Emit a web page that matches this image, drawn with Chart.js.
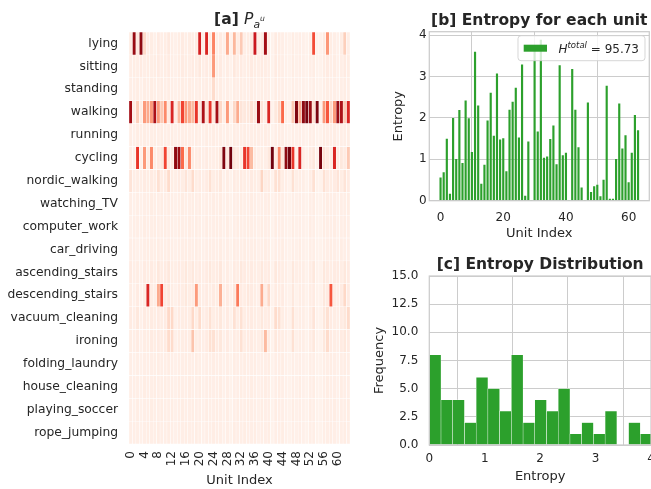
<!DOCTYPE html>
<html><head><meta charset="utf-8">
<script src="https://cdn.jsdelivr.net/npm/chart.js@4.4.1/dist/chart.umd.min.js"></script>
<style>
html,body{margin:0;padding:0;background:#fff;width:651px;height:489px;overflow:hidden;position:relative;}
canvas{position:absolute;}
</style></head><body>
<canvas id="cA" width="352" height="489" style="left:0;top:0"></canvas>
<canvas id="cB" width="281" height="250" style="left:370px;top:0"></canvas>
<canvas id="cC" width="290" height="239" style="left:370px;top:250px"></canvas>
<script>
// ---------- data ----------
const activities = ['lying','sitting','standing','walking','running','cycling','nordic_walking','watching_TV','computer_work','car_driving','ascending_stairs','descending_stairs','vacuum_cleaning','ironing','folding_laundry','house_cleaning','playing_soccer','rope_jumping'];
const units = [0,1,2,3,4,5,6,7,8,9,10,11,12,13,14,15,16,17,18,19,20,21,22,23,24,25,26,27,28,29,30,31,32,33,34,35,36,37,38,39,40,41,42,43,44,45,46,47,48,49,50,51,52,53,54,55,56,57,58,59,60,61,62,63];
const heatTickLabels = ['0','4','8','12','16','20','24','28','32','36','40','44','48','52','56','60'];

// P(a|u) in percent, one array per activity row
const pLying = [5,90,6,92,14,4,5,3, 6,4,5,7,4,3,5,6, 4,5,4,6,72,4,70,5, 42,4,6,3,30,2,26,5, 20,4,5,6,75,4,5,88, 4,2,6,5,4,3,2,5, 3,4,3,2,4,58,2,2, 6,36,5,4,3,5,18,4];
const pSitting = [4,5,4,6,4,5,4,5, 6,4,5,6,4,3,5,6, 5,4,6,5,8,4,6,5, 35,5,6,3,5,2,8,5, 6,4,5,6,5,4,6,5, 4,2,6,5,4,3,2,5, 3,4,3,2,4,5,2,2, 5,6,4,5,3,4,6,5];
const pStanding = [4,4,5,3,5,4,5,4, 4,5,4,5,4,3,4,5, 4,5,4,4,5,4,5,4, 14,4,5,3,4,2,5,4, 5,4,4,5,4,3,5,4, 4,2,5,4,4,3,2,4, 3,3,3,2,3,4,2,2, 4,5,4,4,3,4,5,4];
const pWalking = [88,5,18,5,35,30,35,85, 35,20,40,6,70,5,25,60, 35,30,25,65,8,85,10,65, 8,88,15,4,35,2,15,30, 10,8,8,12,8,90,10,5, 70,2,8,15,50,5,2,20, 95,30,92,97,90,12,96,2, 35,55,15,35,90,85,20,70];
const pRunning = [4,3,5,4,5,4,4,5, 4,5,4,4,5,3,4,4, 5,4,4,5,4,3,5,4, 5,4,4,3,4,2,5,4, 4,5,4,4,5,4,4,5, 4,2,4,5,4,3,2,4, 3,4,3,2,4,4,2,2, 5,4,4,5,3,4,4,5];
const pCycling = [4,3,65,3,35,5,40,4, 6,8,60,6,5,92,90,50, 8,40,6,5,6,4,6,5, 4,5,8,95,6,98,8,6, 5,65,60,25,6,3,5,4, 8,98,6,40,8,92,98,65, 3,70,4,2,6,8,2,97, 10,6,5,70,5,8,6,20];
const pNordic = [10,4,5,4,6,5,6,5, 12,5,6,14,5,4,6,5, 10,5,14,5,6,4,6,12, 5,6,8,3,5,2,6,5, 6,5,4,6,5,4,16,5, 6,2,12,12,5,4,2,12, 4,5,4,2,5,12,2,2, 12,6,5,6,10,5,10,6];
const pTV = [4,3,4,3,4,4,5,4, 4,5,4,5,4,3,4,5, 4,4,5,4,5,3,4,4, 5,4,5,3,4,2,4,4, 5,4,4,5,4,3,4,4, 5,2,4,5,4,3,2,4, 3,4,3,2,4,5,2,2, 4,5,4,4,3,4,4,5];
const pComputer = [3,4,4,3,5,4,4,5, 4,4,5,4,4,3,5,4, 4,5,4,5,4,3,5,4, 4,5,4,3,5,2,4,5, 4,4,5,4,4,3,5,4, 4,2,5,4,4,3,2,5, 3,4,3,2,5,4,2,2, 5,4,4,5,3,4,5,4];
const pCar = [4,4,3,3,4,5,4,4, 5,4,4,5,4,3,4,4, 5,4,4,5,4,3,4,5, 4,4,5,3,4,2,5,4, 4,5,4,4,5,3,4,5, 4,2,4,4,5,3,2,4, 3,5,3,2,4,4,2,2, 4,4,5,4,3,5,4,4];
const pAscending = [6,4,5,3,6,5,6,4, 8,5,6,8,5,4,6,5, 8,5,8,5,6,4,6,8, 5,6,8,3,5,2,6,5, 8,6,5,6,5,4,8,5, 6,2,8,6,5,4,2,8, 4,5,4,2,5,8,2,2, 8,6,5,6,6,5,8,6];
const pDescending = [5,3,6,2,5,70,5,4, 30,60,6,8,5,3,6,5, 8,5,6,35,6,4,6,5, 6,5,28,3,6,2,8,45, 6,5,8,6,5,3,30,4, 15,2,6,5,6,3,2,8, 2,5,4,2,5,6,2,2, 8,6,55,5,4,6,15,6];
const pVacuum = [6,4,8,3,6,5,6,5, 6,5,6,15,15,3,6,5, 6,5,15,5,14,4,6,12, 5,6,8,3,6,2,12,5, 12,5,6,6,5,4,8,5, 6,2,14,12,5,4,2,12, 3,5,4,2,5,10,2,2, 8,12,6,5,4,6,8,14];
const pIroning = [5,4,6,3,5,5,6,5, 6,5,6,14,14,3,5,5, 6,5,22,5,6,4,6,12, 12,6,8,3,6,2,6,5, 12,5,6,6,5,4,8,25, 6,2,8,6,5,4,2,12, 3,5,4,2,5,8,2,2, 8,14,6,5,4,6,8,6];
const pFolding = [4,3,4,3,4,4,4,4, 5,4,4,5,4,3,4,4, 5,4,4,5,4,3,4,4, 5,4,4,3,4,2,5,4, 4,5,4,4,5,3,4,4, 5,2,4,4,5,3,2,4, 3,4,3,2,4,4,2,2, 4,4,5,4,3,4,5,4];
const pHouse = [4,4,4,3,5,4,4,5, 4,4,5,4,4,3,5,4, 4,5,4,4,5,3,4,5, 4,4,5,3,4,2,4,4, 5,4,4,5,4,3,4,5, 4,2,4,5,4,3,2,4, 3,5,3,2,4,5,2,2, 4,5,4,4,3,5,4,4];
const pSoccer = [4,3,5,3,4,4,5,4, 4,5,4,4,5,3,4,5, 4,4,5,4,4,3,5,4, 4,5,4,3,5,2,4,5, 4,4,5,4,4,3,5,4, 4,2,5,4,4,3,2,5, 3,4,3,2,5,4,2,2, 5,4,4,5,3,4,4,5];
const pRope = [4,4,4,3,4,5,4,4, 5,4,4,5,4,3,4,4, 5,4,4,5,4,3,4,4, 5,4,4,3,4,2,5,4, 4,5,4,4,5,3,4,4, 5,2,4,4,5,3,2,4, 3,4,3,2,4,4,2,2, 4,4,5,4,3,4,5,4];
const heatRows = [pLying,pSitting,pStanding,pWalking,pRunning,pCycling,pNordic,pTV,pComputer,pCar,pAscending,pDescending,pVacuum,pIroning,pFolding,pHouse,pSoccer,pRope];

// entropy per unit
const entropy = [0.55,0.68,1.49,0.16,1.99,1.00,2.18,0.90,2.41,1.98, 1.17,3.59,2.29,0.40,0.86,1.93,2.60,1.56,3.06,1.47, 1.50,0.70,2.19,2.38,2.72,1.52,3.28,0.11,1.42,0.00, 3.70,1.66,3.88,1.03,1.06,1.48,1.81,0.87,3.26,1.09, 1.15,0.00,3.17,2.19,1.28,0.31,0.00,2.36,0.20,0.34, 0.38,0.10,0.50,2.77,0.04,0.04,1.00,2.34,1.25,1.57, 0.44,1.15,2.06,1.69];
const totalEntropyText = '95.73';

// histogram of entropies
const histEdges = [0,0.2115,0.423,0.6345,0.846,1.0575,1.269,1.4805,1.692,1.9035,2.115,2.3265,2.538,2.7495,2.961,3.1725,3.384,3.5955,3.807,4.0185];
const histCounts = [8,4,4,2,6,5,3,8,2,4,3,5,1,2,1,3,0,2,1];
const bTicksY = [0,1,2,3,4];

// ---------- helpers ----------
const FONT = '"DejaVu Sans", sans-serif';
const TXT = '#262626';
const GREEN = '#2ca02c';
const GRID = '#cccccc';
Chart.defaults.font.family = FONT;
Chart.defaults.color = TXT;

const redsStops = [[255,245,240],[254,224,210],[252,187,161],[252,146,114],[251,106,74],[239,59,44],[203,24,29],[165,15,21],[103,0,13]];
function reds(t){
  t = Math.max(0, Math.min(1, t));
  const s = t*8, i = Math.min(7, Math.floor(s)), f = s - i;
  const a = redsStops[i], b = redsStops[i+1];
  return 'rgb(' + [0,1,2].map(k => Math.round(a[k] + (b[k]-a[k])*f)).join(',') + ')';
}
function noPadH(a){ a.paddingLeft = 0; a.paddingRight = 0; }
function noPadV(a){ a.paddingTop = 0; a.paddingBottom = 0; }

const mixedTitle = {
  id: 'mixedTitle',
  afterDraw(chart, args, o) {
    if (!o || !o.parts) return;
    const ctx = chart.ctx, ca = chart.chartArea;
    ctx.save();
    ctx.fillStyle = TXT; ctx.textBaseline = 'alphabetic'; ctx.textAlign = 'left';
    let total = 0;
    const ws = o.parts.map(p => { ctx.font = p.font; const w = ctx.measureText(p.text).width; total += w + (p.dx||0); return w; });
    let x = (ca.left + ca.right)/2 - total/2;
    o.parts.forEach((p, i) => { ctx.font = p.font; x += (p.dx||0); ctx.fillText(p.text, x, o.y + (p.dy||0)); x += ws[i]; });
    ctx.restore();
  }
};
const frame = {
  id: 'frame',
  afterDatasetsDraw(chart, args, o) {
    if (!o || !o.show) return;
    const ctx = chart.ctx, ca = chart.chartArea;
    ctx.save(); ctx.strokeStyle = GRID; ctx.lineWidth = 1.25;
    ctx.strokeRect(ca.left, ca.top, ca.right - ca.left, ca.bottom - ca.top);
    ctx.restore();
  }
};
const boxLegend = {
  id: 'boxLegend',
  afterDraw(chart, args, o) {
    if (!o || !o.parts) return;
    const ctx = chart.ctx, ca = chart.chartArea;
    ctx.save();
    let tw = 0;
    const ws = o.parts.map(p => { ctx.font = p.font; const w = ctx.measureText(p.text).width; tw += w; return w; });
    const h = 25, padL = 5.7, patchW = 23.3, gap = 11.5, padR = 6;
    const w = padL + patchW + gap + tw + padR;
    const right = ca.right - 4.3, top = ca.top + 4, left = right - w;
    ctx.beginPath(); ctx.roundRect(left, top, w, h, 3);
    ctx.fillStyle = 'rgba(255,255,255,0.8)'; ctx.fill();
    ctx.strokeStyle = 'rgba(204,204,204,0.8)'; ctx.lineWidth = 1; ctx.stroke();
    ctx.fillStyle = GREEN; ctx.fillRect(left + padL, top + h/2 - 3.5, patchW, 7);
    ctx.fillStyle = TXT; ctx.textBaseline = 'alphabetic';
    let x = left + padL + patchW + gap; const base = top + 17;
    o.parts.forEach((p, i) => { ctx.font = p.font; ctx.fillText(p.text, x, base + (p.dy||0)); x += ws[i]; });
    ctx.restore();
  }
};
Chart.register(mixedTitle, frame, boxLegend);

const common = { responsive:false, animation:false, devicePixelRatio:1, events:[] };

// ---------- [a] heatmap ----------
new Chart(document.getElementById('cA'), {
  type: 'bar',
  data: {
    labels: units.map(String),
    datasets: heatRows.map((row, r) => ({
      data: row.map(() => [r, r + 1]),
      backgroundColor: row.map(v => reds(v/100)),
      borderColor: '#ffffff',
      borderWidth: {left:0.5, right:0.5, top:0.55, bottom:0.55},
      borderSkipped: false,
      barPercentage: 1, categoryPercentage: 1, grouped: false
    }))
  },
  options: Object.assign({}, common, {
    layout: {padding: {top:32, right:2, left:0, bottom:0}},
    plugins: {
      legend:{display:false}, tooltip:{enabled:false},
      mixedTitle: {y: 24, parts: [
        {text:'[a] ', font:'bold 15.5px ' + FONT},
        {text:'P', font:'italic 15.5px ' + FONT},
        {text:'a', font:'italic 10.8px ' + FONT, dy:3.5},
        {text:'u', font:'italic 7.6px ' + FONT, dy:-3.5}
      ]}
    },
    scales: {
      x: {
        type:'category', offset:true,
        grid:{display:false, drawTicks:false}, border:{display:false},
        ticks:{autoSkip:false, minRotation:90, maxRotation:90, padding:7, color:TXT, font:{size:12},
          callback:(v, i) => heatTickLabels.includes(String(units[i])) ? String(units[i]) : ''},
        title:{display:true, text:'Unit Index', color:TXT, font:{size:13}, padding:{top:0, bottom:0.7}},
        afterFit(a){ a.height = 45; noPadH(a); }
      },
      y: {
        type:'linear', min:0, max:18, reverse:true,
        grid:{display:false, drawTicks:false}, border:{display:false},
        afterBuildTicks(a){ a.ticks = activities.map((_, i) => ({value: i + 0.5})); },
        ticks:{autoSkip:false, padding:11, color:TXT, font:{size:12.3}, callback:(v) => activities[Math.floor(v)]},
        afterFit(a){ a.width = 129; noPadV(a); }
      }
    }
  })
});

// ---------- [b] entropy per unit ----------
new Chart(document.getElementById('cB'), {
  type: 'bar',
  data: { datasets: [{
    data: units.map((u, i) => ({x:u, y:entropy[i]})),
    backgroundColor: GREEN, barThickness: 1.5, clip: 0
  }]},
  options: Object.assign({}, common, {
    layout: {padding: {top:31.7, right:1.7, left:0, bottom:0}},
    plugins: {
      legend:{display:false}, tooltip:{enabled:false},
      mixedTitle: {y: 25, parts: [{text:'[b] Entropy for each unit', font:'bold 15.5px ' + FONT}]},
      frame: {show:true},
      boxLegend: {parts: [
        {text:'H', font:'italic 12px ' + FONT},
        {text:'total', font:'italic 8.5px ' + FONT, dy:-4.5},
        {text:' = ' + totalEntropyText, font:'12px ' + FONT}
      ]}
    },
    scales: {
      x: {
        type:'linear', min:-3.59, max:66.59, offset:false,
        grid:{color:GRID, lineWidth:1, drawTicks:false}, border:{display:false},
        ticks:{stepSize:20, includeBounds:false, padding:10, color:TXT, font:{size:12}},
        title:{display:true, text:'Unit Index', color:TXT, font:{size:13}, padding:{top:0, bottom:8.2}},
        afterFit(a){ a.height = 49.3; noPadH(a); }
      },
      y: {
        type:'linear', min:0, max:4.08,
        grid:{color:GRID, lineWidth:1, drawTicks:false}, border:{display:false},
        afterBuildTicks(a){ a.ticks = bTicksY.map(v => ({value:v})); },
        ticks:{padding:2.6, color:TXT, font:{size:12}},
        title:{display:true, text:'Entropy', color:TXT, font:{size:13}, padding:{top:20.7, bottom:0}},
        afterFit(a){ a.width = 59.3; noPadV(a); }
      }
    }
  })
});

// ---------- [c] entropy distribution ----------
new Chart(document.getElementById('cC'), {
  type: 'bar',
  data: { datasets: [{
    data: histCounts.map((c, i) => ({x:(histEdges[i] + histEdges[i+1])/2, y:c})),
    backgroundColor: GREEN, borderColor: '#ffffff',
    borderWidth: {left:0.5, right:0.5, top:0.5, bottom:0}, borderSkipped: false,
    barPercentage: 1, categoryPercentage: 1, clip: 0
  }]},
  options: Object.assign({}, common, {
    layout: {padding: {top:26, right:9, left:0, bottom:0}},
    plugins: {
      legend:{display:false}, tooltip:{enabled:false},
      mixedTitle: {y: 19.3, parts: [{text:'[c] Entropy Distribution', font:'bold 15.5px ' + FONT}]},
      frame: {show:true}
    },
    scales: {
      x: {
        type:'linear', min:0, max:4, offset:false,
        grid:{color:GRID, lineWidth:1, drawTicks:false}, border:{display:false},
        ticks:{stepSize:1, includeBounds:false, padding:7, color:TXT, font:{size:12}},
        title:{display:true, text:'Entropy', color:TXT, font:{size:13}, padding:{top:0, bottom:4.2}},
        afterFit(a){ a.height = 44; noPadH(a); }
      },
      y: {
        type:'linear', min:0, max:15,
        grid:{color:GRID, lineWidth:1, drawTicks:false}, border:{display:false},
        ticks:{stepSize:2.5, padding:11, color:TXT, font:{size:12}, callback:(v) => Number(v).toFixed(1)},
        title:{display:true, text:'Frequency', color:TXT, font:{size:13}, padding:{top:1.7, bottom:0}},
        afterFit(a){ a.width = 59.3; noPadV(a); }
      }
    }
  })
});
</script>
</body></html>
